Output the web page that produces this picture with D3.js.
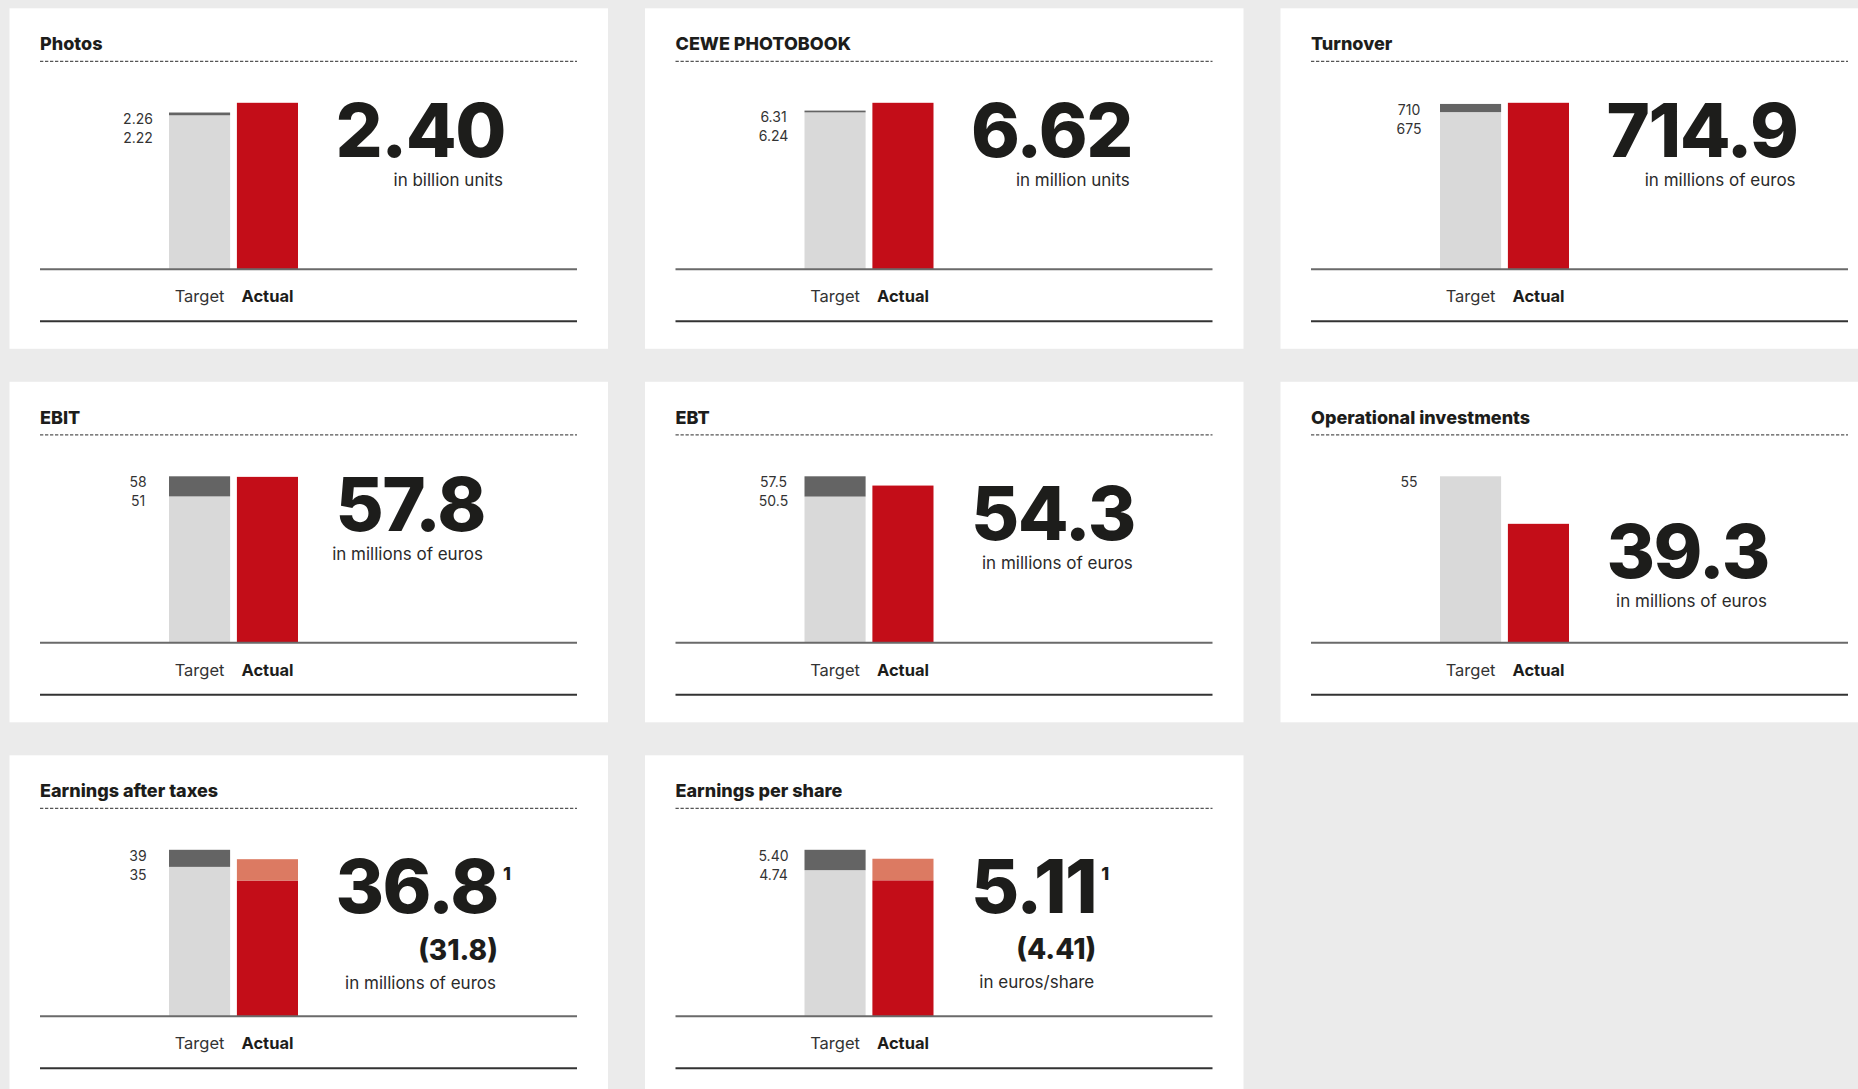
<!DOCTYPE html>
<html lang="en">
<head>
<meta charset="UTF-8">
<title>Target vs actual</title>
<script src="https://d3js.org/d3.v7.min.js"></script>
<style>
    body { margin: 0; background: #ebebeb; }
    svg { display: block; font-family: Inter, "Noto Sans", sans-serif; }
</style>
</head>
<body>
<script>
    // key figures, one entry per panel
    const titles = ["Photos", "CEWE PHOTOBOOK", "Turnover", "EBIT", "EBT",
        "Operational investments", "Earnings after taxes", "Earnings per share"];
    const targetLow = [2.22, 6.24, 675, 51, 50.5, 55, 35, 4.74];
    const targetHigh = [2.26, 6.31, 710, 58, 57.5, null, 39, 5.40];
    const targetDigits = [2, 2, 0, 0, 1, 0, 0, 2];
    const actual = [2.40, 6.62, 714.9, 57.8, 54.3, 39.3, 36.8, 5.11];
    const actualAdjusted = [null, null, null, null, null, null, 31.8, 4.41];
    const actualDigits = [2, 2, 1, 1, 1, 1, 1, 2];
    const footnotes = [null, null, null, null, null, null, "1", "1"];
    const units = ["in billion units", "in million units", "in millions of euros",
        "in millions of euros", "in millions of euros", "in millions of euros",
        "in millions of euros", "in euros/share"];
    const categories = ["Target", "Actual"];

    const W = 1858, H = 1089;
    const panelW = 598.5, panelH = 340.5;
    const colStep = 635.5, rowStep = 373.5;

    const ink = "#1d1d1b";
    const colors = {
        light: "#d9d9d9", dark: "#646464",
        red: "#c30d18", salmon: "#dc7a62"
    };

    const svg = d3.select("body").append("svg")
        .attr("width", W)
        .attr("height", H);

    titles.forEach((title, i) => {
        const g = svg.append("g")
            .attr("transform", `translate(${9.5 + (i % 3) * colStep}, ${8.3 + Math.floor(i / 3) * rowStep})`);

        g.append("rect")
            .attr("width", panelW)
            .attr("height", panelH)
            .attr("fill", "#fff");

        g.append("text")
            .attr("x", 30.5)
            .attr("y", 42)
            .attr("font-size", 18)
            .attr("font-weight", 800)
            .attr("fill", ink)
            .text(title);

        g.append("line")
            .attr("x1", 30.5).attr("x2", 567.5)
            .attr("y1", 53).attr("y2", 53)
            .attr("stroke", "#555")
            .attr("stroke-width", 1.2)
            .attr("stroke-dasharray", "3.3,1.7");

        const top = Math.max(targetHigh[i] || targetLow[i], actual[i]);
        const x = d3.scaleBand().domain(categories).range([159.5, 288.5]).paddingInner(0.1);
        const y = d3.scaleLinear().domain([0, top]).range([261, 94.5]);

        // target bar: light part up to the lower bound, dark part for the range
        const tSegs = [{ from: 0, to: targetLow[i], c: colors.light }];
        if (targetHigh[i] != null) tSegs.push({ from: targetLow[i], to: targetHigh[i], c: colors.dark });
        const aSegs = actualAdjusted[i] != null
            ? [{ from: 0, to: actualAdjusted[i], c: colors.red }, { from: actualAdjusted[i], to: actual[i], c: colors.salmon }]
            : [{ from: 0, to: actual[i], c: colors.red }];

        [["Target", tSegs], ["Actual", aSegs]].forEach(([cat, segs]) => {
            g.selectAll(null)
                .data(segs)
                .enter()
                .append("rect")
                .attr("x", x(cat))
                .attr("width", x.bandwidth())
                .attr("y", d => y(d.to))
                .attr("height", d => y(d.from) - y(d.to))
                .attr("fill", d => d.c);
        });

        // target labels, stacked beside the bar
        const fmt = d3.format(`.${targetDigits[i]}f`);
        const tLabels = targetHigh[i] != null ? [targetHigh[i], targetLow[i]] : [targetLow[i]];
        const labelTop = y(tLabels[0]) + 11;
        g.selectAll(null)
            .data(tLabels)
            .enter()
            .append("text")
            .attr("x", 128.5)
            .attr("y", (d, k) => labelTop + k * 19)
            .attr("text-anchor", "middle")
            .attr("font-size", 14)
            .attr("fill", "#333")
            .text(d => fmt(d));

        // axis baseline and closing rule
        g.append("line")
            .attr("x1", 30.5).attr("x2", 567.5)
            .attr("y1", 261).attr("y2", 261)
            .attr("stroke", "#6a6a6a")
            .attr("stroke-width", 2);
        g.append("line")
            .attr("x1", 30.5).attr("x2", 567.5)
            .attr("y1", 313).attr("y2", 313)
            .attr("stroke", "#333")
            .attr("stroke-width", 2);

        g.selectAll(null)
            .data(categories)
            .enter()
            .append("text")
            .attr("x", d => x(d) + x.bandwidth() / 2)
            .attr("y", 294)
            .attr("text-anchor", "middle")
            .attr("font-size", 16.5)
            .attr("font-weight", d => d === "Actual" ? 700 : 400)
            .attr("fill", d => d === "Actual" ? ink : "#333")
            .text(d => d);

        // big actual figure, cap top level with the actual bar
        const numBase = y(actual[i]) + 54;
        const num = g.append("text")
            .attr("x", 326)
            .attr("y", numBase)
            .attr("font-size", 74)
            .attr("font-weight", 800)
            .attr("letter-spacing", -1.5)
            .attr("fill", ink)
            .text(d3.format(`.${actualDigits[i]}f`)(actual[i]));
        const numRight = 326 + num.node().getComputedTextLength();

        if (footnotes[i]) {
            g.append("text")
                .attr("x", numRight + 5)
                .attr("y", y(actual[i]) + 21)
                .attr("font-size", 18)
                .attr("font-weight", 800)
                .attr("fill", ink)
                .text(footnotes[i]);
        }

        let lineBase = numBase;
        if (actualAdjusted[i] != null) {
            lineBase += 46.5;
            g.append("text")
                .attr("x", numRight)
                .attr("y", lineBase)
                .attr("text-anchor", "end")
                .attr("font-size", 28)
                .attr("font-weight", 800)
                .attr("fill", ink)
                .text(`(${d3.format(`.${actualDigits[i]}f`)(actualAdjusted[i])})`);
        }

        g.append("text")
            .attr("x", numRight - 2)
            .attr("y", lineBase + 29)
            .attr("text-anchor", "end")
            .attr("font-size", 17)
            .attr("fill", "#2a2a2a")
            .text(units[i]);
    });
</script>
</body>
</html>
